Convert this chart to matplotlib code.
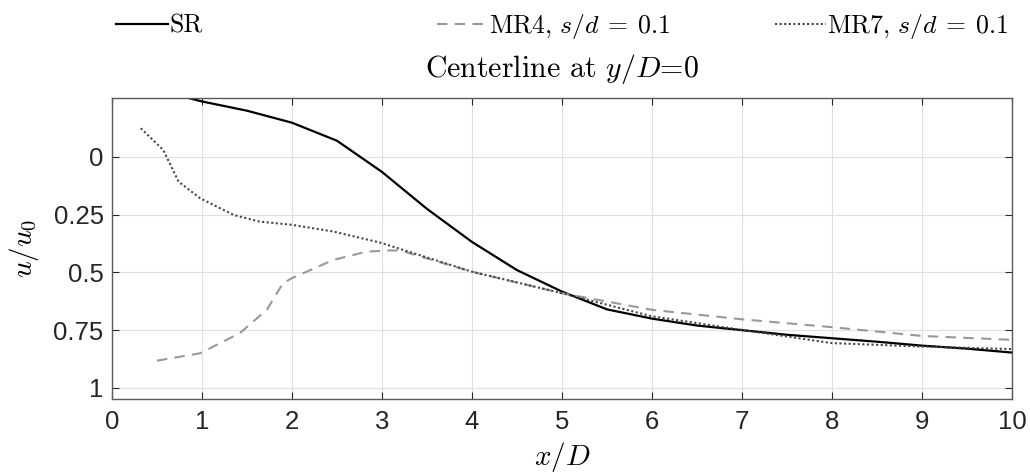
import numpy as np
import matplotlib
matplotlib.use("Agg")
from matplotlib import pyplot as plt

# data
x_sr = [0.85, 1.0, 1.5, 2.0, 2.5, 3.0, 3.5, 4.0, 4.5, 5.0, 5.5, 6.0, 6.5, 7.0, 7.5, 8.0, 8.5, 9.0, 9.5, 10.0]
u_sr = [-0.255, -0.24, -0.20, -0.148, -0.07, 0.065, 0.225, 0.368, 0.49, 0.583, 0.66, 0.70, 0.73, 0.75, 0.77, 0.785, 0.80, 0.817, 0.83, 0.847]

x_mr4 = [0.5, 0.98, 1.42, 1.72, 1.9, 2.0, 2.46, 2.83, 3.09, 3.2, 4.0, 5.0, 6.0, 7.0, 8.0, 9.0, 10.0]
u_mr4 = [0.882, 0.85, 0.763, 0.662, 0.547, 0.525, 0.446, 0.41, 0.405, 0.405, 0.497, 0.59, 0.662, 0.703, 0.737, 0.775, 0.792]

x_mr7 = [0.32, 0.57, 0.74, 0.98, 1.35, 1.64, 2.0, 2.46, 2.98, 4.0, 5.0, 6.0, 7.0, 8.0, 9.0, 10.0]
u_mr7 = [-0.124, -0.03, 0.107, 0.179, 0.251, 0.28, 0.294, 0.323, 0.371, 0.497, 0.59, 0.69, 0.749, 0.806, 0.821, 0.832]

xticks = np.arange(0, 11, 1)
yticks = [0, 0.25, 0.5, 0.75, 1]
ytick_labels = ['0', '0.25', '0.5', '0.75', '1']

plt.rcParams['mathtext.fontset'] = 'cm'
plt.rcParams['font.family'] = ['Liberation Sans', 'DejaVu Sans']

fig = plt.figure(figsize=(10.3, 4.75), dpi=100)
ax = fig.add_axes([0.1087, 0.16, 0.8738, 0.6337])

l1, = ax.plot(x_sr, u_sr, color='black', lw=1.6, ls='-')
l2, = ax.plot(x_mr4, u_mr4, color='#999999', lw=1.5, ls=(0, (5, 3.5)))
l3, = ax.plot(x_mr7, u_mr7, color='#444444', lw=1.5, ls=(0, (1, 1.2)))

ax.set_xlim(0, 10)
ax.set_ylim(1.048, -0.255)
ax.set_xticks(xticks)
ax.set_yticks(yticks)
ax.set_yticklabels(ytick_labels)
ax.tick_params(direction='in', length=5, width=0.8, colors='#262626', labelsize=18.5,
               top=True, right=True, pad=8)
ax.tick_params(axis='y', pad=6)
ax.grid(True, color='#e0e0e0', lw=0.8)
for s in ax.spines.values():
    s.set_color('#5a5a5a')
    s.set_linewidth(1.0)

ax.set_title('Centerline at $y/D$=0', fontsize=21.5, pad=15, family='cmr10')
ax.set_xlabel(r'$x/D$', fontsize=21, labelpad=4)
ax.set_ylabel(r'$u/u_0$', fontsize=21, labelpad=9)

# legend entries spread along the top, one per column
entries = [(l1, 'SR', 0.113),
           (l2, r'MR4, $s/d\:=\:0.1$', 0.424),
           (l3, r'MR7, $s/d\:=\:0.1$', 0.752)]
for h, lab, xpos in entries:
    fig.legend([h], [lab], loc='center left', bbox_to_anchor=(xpos, 0.945),
               frameon=False, prop={'family': 'cmr10', 'size': 18.5},
               handlelength=2.0, handletextpad=0.05, borderpad=0, borderaxespad=0)

fig.savefig('out.png', dpi=100)
